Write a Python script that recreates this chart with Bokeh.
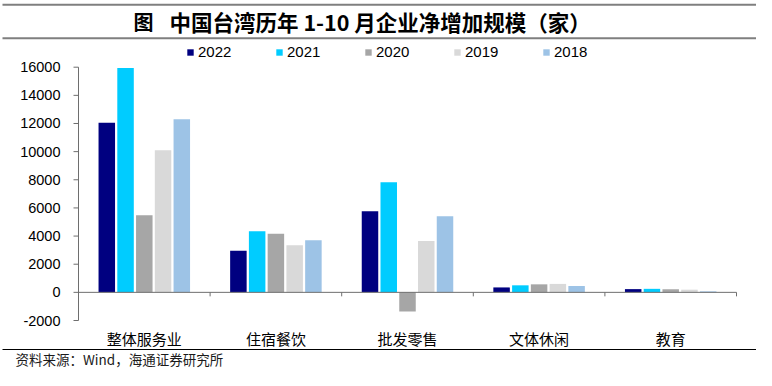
from bokeh.plotting import figure
from bokeh.models import Range1d, Legend, LegendItem, ColumnDataSource
from bokeh.transform import dodge
from bokeh.embed import file_html
from bokeh.resources import INLINE
from bokeh.core.properties import value

categories = ["整体服务业", "住宿餐饮", "批发零售", "文体休闲", "教育"]
years = ["2022", "2021", "2020", "2019", "2018"]
v2022 = [12050, 2960, 5760, 350, 230]
v2021 = [15950, 4350, 7830, 500, 250]
v2020 = [5480, 4160, -1360, 570, 220]
v2019 = [10090, 3350, 3650, 600, 190]
v2018 = [12300, 3700, 5400, 450, 70]
y_ticks = [-2000, 0, 2000, 4000, 6000, 8000, 10000, 12000, 14000, 16000]
colors = ["#000080", "#00CCFF", "#A6A6A6", "#D9D9D9", "#9DC3E6"]
title_prefix = "图"
title_text = "中国台湾历年 1-10 月企业净增加规模（家）"
source_text = "资料来源：Wind，海通证券研究所"

W, H = 756, 370
CJK = "Noto Sans CJK SC"
LAT = "Liberation Sans"

# plot-area geometry in canvas pixels
FL, FR = 78, 736           # left / right end of the category axis
Y_MIN, Y_MAX = y_ticks[0], y_ticks[-1]
PY_MIN, PY_MAX = 320.0, 66.7   # canvas rows of Y_MIN / Y_MAX
n = len(categories)
UNIT = (FR - FL) / n
K = (PY_MIN - PY_MAX) / (Y_MAX - Y_MIN)   # pixels per value unit


def X(c):
    return (c - FL) / UNIT


def Y(c):
    return Y_MIN + (PY_MIN - c) / K


p = figure(width=W, height=H, x_range=Range1d(X(0), X(W)), y_range=Range1d(Y(H), Y(0)),
           x_axis_type=None, y_axis_type=None, min_border=0,
           toolbar_location=None, output_backend="svg")
p.outline_line_color = None

# ---- bars ----
src = ColumnDataSource(dict(xc=[i + 0.5 for i in range(n)], y2022=v2022, y2021=v2021,
                            y2020=v2020, y2019=v2019, y2018=v2018))
step = 0.1425
bw = 0.1254
renderers = []
for i, (yr, col) in enumerate(zip(years, colors)):
    r = p.vbar(x=dodge("xc", (i - 2) * step), top="y" + yr, bottom=0, width=bw,
               source=src, fill_color=col, line_color=None)
    renderers.append(r)

# ---- axes ----
axis_col = "#6e6e6e"
p.segment(x0=[0], x1=[n], y0=[0], y1=[0], line_color=axis_col, line_width=1)
p.segment(x0=list(range(1, n + 1)), x1=list(range(1, n + 1)),
          y0=[0] * n, y1=[-4 / K] * n, line_color=axis_col, line_width=1)
p.segment(x0=[0], x1=[0], y0=[Y_MIN], y1=[Y_MAX], line_color=axis_col, line_width=1)
p.segment(x0=[-5 / UNIT] * len(y_ticks), x1=[0] * len(y_ticks), y0=y_ticks, y1=y_ticks,
          line_color=axis_col, line_width=1)
p.text(x=[X(60)] * len(y_ticks), y=y_ticks, text=[str(t) for t in y_ticks],
       text_font=value(LAT), text_font_size="14.5px", text_align="right",
       text_baseline="middle", text_color="#000000")
p.text(x=[i + 0.5 for i in range(n)], y=[Y(338)] * n, text=categories,
       text_font=value(CJK), text_font_size="15px", text_align="center",
       text_baseline="middle", text_color="#000000")

# ---- legend ----
legend = Legend(items=[LegendItem(label=yr, renderers=[r]) for yr, r in zip(years, renderers)],
                orientation="horizontal", location=(186, 310),
                glyph_width=8, glyph_height=8, label_standoff=4,
                label_width=77, label_height=16, spacing=0, padding=0, margin=0,
                border_line_color=None, background_fill_alpha=0,
                label_text_font=LAT, label_text_font_size="15px",
                label_text_color="#000000")
p.add_layout(legend)

# ---- page furniture: rules, title, source ----
p.segment(x0=[X(2), X(2)], x1=[X(756), X(756)], y0=[Y(4.3), Y(37.7)], y1=[Y(4.3), Y(37.7)],
          line_color="#7f7f7f", line_width=2)
p.segment(x0=[X(2)], x1=[X(756)], y0=[Y(349)], y1=[Y(349)],
          line_color="#000000", line_width=1)
p.text(x=[X(133)], y=[Y(20.5)], text=[title_prefix], text_font=value(CJK),
       text_font_style="bold", text_font_size="20px", text_align="left",
       text_baseline="middle", text_color="#000000")
p.text(x=[X(169)], y=[Y(20.5)], text=[title_text], text_font=value(CJK),
       text_font_style="bold", text_font_size="21.5px", text_align="left",
       text_baseline="middle", text_color="#000000")
p.text(x=[X(15)], y=[Y(358)], text=[source_text], text_font=value(CJK),
       text_font_size="13.5px", text_align="left", text_baseline="middle",
       text_color="#1a1a1a")

open("out.html", "w").write(file_html(p, INLINE))
